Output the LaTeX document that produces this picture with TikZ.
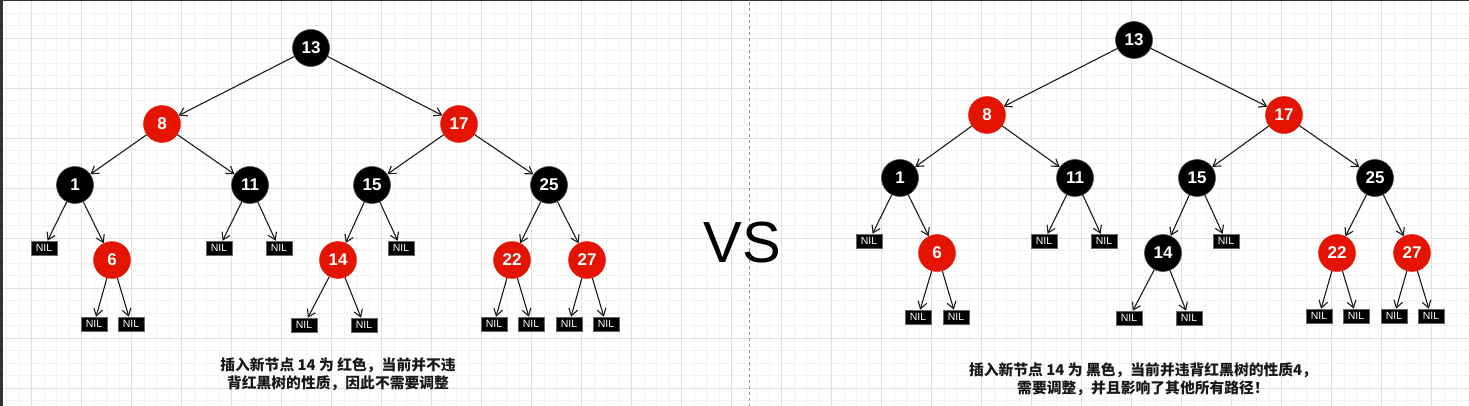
\documentclass[tikz,border=0pt]{standalone}
\usepackage{fontspec}
\setmainfont{Liberation Sans}
\newfontfamily\cjk{Noto Sans CJK SC}
\usetikzlibrary{arrows.meta}
\definecolor{rbred}{HTML}{E51400}
\definecolor{gridminor}{HTML}{F2F2F2}
\definecolor{gridmajor}{HTML}{E0E0E0}
\definecolor{edgecol}{HTML}{1A1A1A}
\tikzset{
  rb/.style={circle, minimum size=37pt, inner sep=0pt, text=white, font=\bfseries\fontsize{17}{17}\selectfont},
  bnode/.style={rb, fill=black, draw=black!70, line width=0.6pt},
  rnode/.style={rb, fill=rbred, draw=rbred},
  nil/.style={rectangle, fill=black, draw=black!60, line width=0.5pt, minimum width=26pt, minimum height=14pt, inner sep=0pt, text=white, font=\fontsize{10.5}{10.5}\selectfont},
  edge/.style={draw=edgecol, line width=1.1pt, -{Straight Barb[length=7pt,width=9pt]}},
  captext/.style={align=center, font=\cjk\bfseries\fontsize{14.8}{18}\selectfont, text=black!90},
}
\begin{document}
\begin{tikzpicture}[x=1pt,y=-1pt]
\useasboundingbox (0,0) rectangle (1469,406);
\fill[white] (0,0) rectangle (1469,406);
% grid
\foreach \i in {0,...,117} {
  \draw[gridminor, line width=0.6pt] ({6.7+12.5*\i},0) -- ({6.7+12.5*\i},406);
}
\foreach \j in {0,...,32} {
  \draw[gridminor, line width=0.6pt] (0,{0.5+12.5*\j}) -- (1469,{0.5+12.5*\j});
}
\foreach \i in {0,...,29} {
  \draw[gridmajor, line width=0.7pt] ({31.7+50*\i},0) -- ({31.7+50*\i},406);
}
\foreach \j in {0,...,7} {
  \draw[gridmajor, line width=0.7pt] (0,{38+50*\j}) -- (1469,{38+50*\j});
}
% frame edges
\fill[black!80] (0,0) rectangle (1469,1.2);
\fill[black!80] (0,0) rectangle (2.5,406);
% divider
\draw[black!40, line width=0.8pt, dash pattern=on 3pt off 3pt] (749,2) -- (749,406);
\node[font=\fontsize{58}{58}\selectfont, anchor=base] (vs) at (742,262) {VS};

% ---------- left tree ----------
\node[bnode] (L13) at (311,48) {13};
\node[rnode] (L8) at (162,124) {8};
\node[rnode] (L17) at (459,124) {17};
\node[bnode] (L1) at (75,185) {1};
\node[bnode] (L11) at (250,185) {11};
\node[bnode] (L15) at (372,185) {15};
\node[bnode] (L25) at (549,185) {25};
\node[rnode] (L6) at (112,260) {6};
\node[rnode] (L14) at (338,260) {14};
\node[rnode] (L22) at (512,260) {22};
\node[rnode] (L27) at (587,260) {27};
\node[nil] (Ln1) at (44,248) {NIL};
\node[nil] (Ln11a) at (219,248) {NIL};
\node[nil] (Ln11b) at (279,248) {NIL};
\node[nil] (Ln15) at (401,248) {NIL};
\node[nil] (Ln6a) at (94,324) {NIL};
\node[nil] (Ln6b) at (131,324) {NIL};
\node[nil] (Ln14a) at (304,325) {NIL};
\node[nil] (Ln14b) at (364,325) {NIL};
\node[nil] (Ln22a) at (494,324) {NIL};
\node[nil] (Ln22b) at (531,324) {NIL};
\node[nil] (Ln27a) at (569,324) {NIL};
\node[nil] (Ln27b) at (606,324) {NIL};
\foreach \a/\b in {L13/L8, L13/L17, L8/L1, L8/L11, L17/L15, L17/L25,
  L1/Ln1, L1/L6, L11/Ln11a, L11/Ln11b, L15/L14, L15/Ln15, L25/L22, L25/L27,
  L6/Ln6a, L6/Ln6b, L14/Ln14a, L14/Ln14b, L22/Ln22a, L22/Ln22b, L27/Ln27a, L27/Ln27b}
  \draw[edge] (\a) -- (\b);
\node[captext] (Lcap) at (338,374) {插入新节点 14 为 红色，当前并不违\\背红黑树的性质，因此不需要调整};

% ---------- right tree ----------
\node[bnode] (R13) at (1134,40) {13};
\node[rnode] (R8) at (987,115) {8};
\node[rnode] (R17) at (1284,115) {17};
\node[bnode] (R1) at (900,178) {1};
\node[bnode] (R11) at (1075,178) {11};
\node[bnode] (R15) at (1197,178) {15};
\node[bnode] (R25) at (1375,178) {25};
\node[rnode] (R6) at (937,253) {6};
\node[bnode] (R14) at (1163,253) {14};
\node[rnode] (R22) at (1337,253) {22};
\node[rnode] (R27) at (1412,253) {27};
\node[nil] (Rn1) at (869,241) {NIL};
\node[nil] (Rn11a) at (1044,241) {NIL};
\node[nil] (Rn11b) at (1104,241) {NIL};
\node[nil] (Rn15) at (1226,241) {NIL};
\node[nil] (Rn6a) at (918,317) {NIL};
\node[nil] (Rn6b) at (956,317) {NIL};
\node[nil] (Rn14a) at (1129,318) {NIL};
\node[nil] (Rn14b) at (1189,318) {NIL};
\node[nil] (Rn22a) at (1319,316) {NIL};
\node[nil] (Rn22b) at (1356,316) {NIL};
\node[nil] (Rn27a) at (1394,316) {NIL};
\node[nil] (Rn27b) at (1431,316) {NIL};
\foreach \a/\b in {R13/R8, R13/R17, R8/R1, R8/R11, R17/R15, R17/R25,
  R1/Rn1, R1/R6, R11/Rn11a, R11/Rn11b, R15/R14, R15/Rn15, R25/R22, R25/R27,
  R6/Rn6a, R6/Rn6b, R14/Rn14a, R14/Rn14b, R22/Rn22a, R22/Rn22b, R27/Rn27a, R27/Rn27b}
  \draw[edge] (\a) -- (\b);
\node[captext] (Rcap) at (1143,379) {插入新节点 14 为 黑色，当前并违背红黑树的性质4，\\需要调整，并且影响了其他所有路径！};
\end{tikzpicture}
\end{document}
